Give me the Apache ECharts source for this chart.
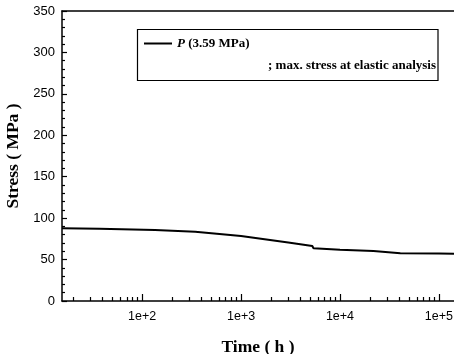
<!DOCTYPE html>
<html>
<head>
<meta charset="utf-8">
<script src="https://cdn.jsdelivr.net/npm/echarts@6/dist/echarts.min.js"></script>
<style>html,body{margin:0;padding:0;background:#fff;}#c{width:454px;height:354px;}</style>
</head>
<body>
<div id="c"></div>
<script>
// Data
var times = [15.5, 37, 135, 344, 1000, 1400, 3000, 5250, 5400, 10000, 21800, 40700, 100000, 142000];
var stress = [87.7, 87.2, 85.7, 83.6, 78.4, 76.0, 70.5, 66.4, 63.6, 61.8, 60.3, 57.6, 57.2, 57.1];
var majorTicks = [100, 1000, 10000, 100000];
var minorTicks = [20,30,40,50,60,70,80,90,200,300,400,500,600,700,800,900,2000,3000,4000,5000,6000,7000,8000,9000,20000,30000,40000,50000,60000,70000,80000,90000];
var yTicks = [0, 50, 100, 150, 200, 250, 300, 350];
var seriesName = 'P (3.59 MPa)';
var legendNote = '; max. stress at elastic analysis';

var chart = echarts.init(document.getElementById('c'));
var serif = 'Liberation Serif';
var sans = 'Liberation Sans';
var xmin = 15.5, xmax = 142000;
chart.setOption({
  animation: false,
  backgroundColor: '#fff',
  grid: { left: 62, right: 0, top: 11, bottom: 53, show: false, containLabel: false, outerBoundsMode: 'none' },
  legend: {
    left: 144, top: 37, padding: 0, itemWidth: 28, itemHeight: 2, itemGap: 5,
    data: [{ name: seriesName, icon: 'rect' }],
    itemStyle: { color: '#000' },
    formatter: function () { return '{i|P}{n| (3.59 MPa)}'; },
    textStyle: {
      rich: {
        i: { fontFamily: serif, fontStyle: 'italic', fontWeight: 'bold', fontSize: 13, color: '#000' },
        n: { fontFamily: serif, fontWeight: 'bold', fontSize: 13, color: '#000' }
      }
    }
  },
  graphic: [
    { type: 'rect', shape: { x: 137.5, y: 29.5, width: 300.5, height: 51 }, style: { fill: 'none', stroke: '#000', lineWidth: 1.2 }, z: 10 },
    { type: 'text', x: 436, y: 66, style: { text: legendNote, font: 'bold 13px "Liberation Serif"', fill: '#000', align: 'right', verticalAlign: 'middle' }, z: 10 }
  ],
  xAxis: [
    {
      type: 'log', min: xmin, max: xmax, position: 'bottom',
      name: 'Time ( h )', nameLocation: 'middle', nameGap: 37,
      nameTextStyle: { fontFamily: serif, fontWeight: 'bold', fontSize: 17.5, color: '#000' },
      axisLine: { show: true, lineStyle: { color: '#000', width: 1.5 } },
      axisTick: { show: true, inside: true, length: 7, customValues: majorTicks, lineStyle: { color: '#000', width: 1.2 } },
      axisLabel: { show: true, customValues: majorTicks, margin: 9, fontFamily: sans, fontSize: 12.5, color: '#000',
        formatter: function (v) { return '1e+' + Math.round(Math.log10(v)); } },
      splitLine: { show: false }, minorTick: { show: false }
    },
    {
      type: 'log', min: xmin, max: xmax, position: 'bottom',
      axisLine: { show: false },
      axisTick: { show: true, inside: true, length: 4, customValues: minorTicks, lineStyle: { color: '#000', width: 1.2 } },
      axisLabel: { show: false }, splitLine: { show: false }
    },
    {
      type: 'log', min: xmin, max: xmax, position: 'top',
      axisLine: { show: true, lineStyle: { color: '#000', width: 1.5 } },
      axisTick: { show: false }, axisLabel: { show: false }, splitLine: { show: false }
    }
  ],
  yAxis: {
    type: 'value', min: 0, max: 350, interval: 50,
    name: 'Stress ( MPa )', nameLocation: 'middle', nameGap: 39,
    nameTextStyle: { fontFamily: serif, fontWeight: 'bold', fontSize: 17.5, color: '#000' },
    axisLine: { show: true, lineStyle: { color: '#000', width: 1.5 } },
    axisTick: { show: true, inside: true, length: 5, lineStyle: { color: '#000', width: 1.2 } },
    minorTick: { show: true, splitNumber: 5, length: 3, lineStyle: { color: '#000', width: 1.2 } },
    axisLabel: { margin: 7, fontFamily: sans, fontSize: 13, color: '#000',
      customValues: yTicks },
    splitLine: { show: false }
  },
  series: [{
    name: seriesName, type: 'line', xAxisIndex: 0, symbol: 'none', smooth: false,
    lineStyle: { color: '#000', width: 2 },
    itemStyle: { color: '#000' },
    data: times.map(function (t, i) { return [t, stress[i]]; })
  }]
});
</script>
</body>
</html>
